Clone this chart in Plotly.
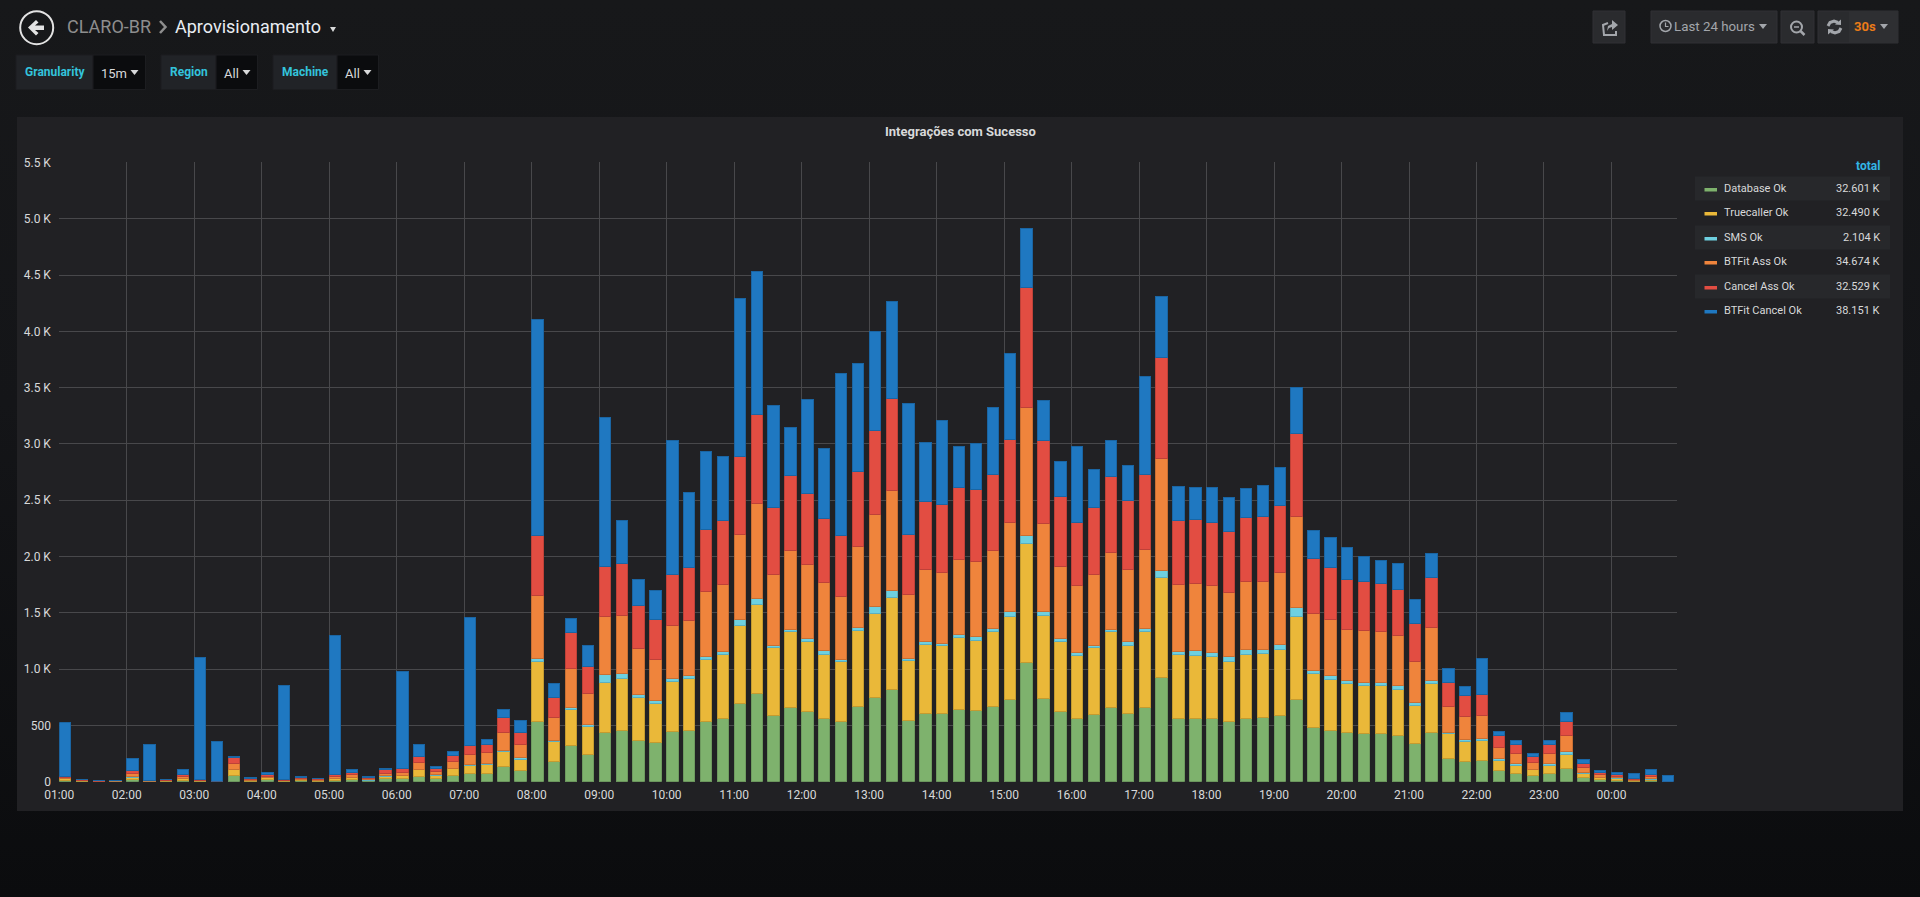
"""Grafana panel "Integrações com Sucesso", rebuilt with Plotly."""
import pandas as pd
import plotly.graph_objects as go

W, H = 1920, 897

# ── Data ──────────────────────────────────────────────────────────────────────
# 15 minute buckets, 01:00 to 00:45 next day

bar_times = pd.date_range("2018-01-01 01:00", periods=96, freq="15min")

database_ok = [
    15, 4, 2, 3, 21, 3, 4, 15, 4, 1, 53, 5, 18, 4, 9, 5, 15, 21, 8, 27, 27, 50, 27, 56,
    74, 77, 133, 100, 533, 178, 320, 243, 441, 456, 370, 349, 444, 459, 539, 562,
    696, 784, 592, 663, 619, 562, 533, 672, 749, 820, 545, 605, 605, 642, 632, 668,
    732, 1059, 739, 625, 561, 598, 662, 605, 662, 926, 565, 561, 561, 535, 565, 571,
    586, 731, 482, 456, 438, 429, 429, 411, 337, 438, 210, 181, 186, 98, 74, 53,
    74, 118, 36, 18, 12, 6, 12, 0,
]
truecaller_ok = [
    12, 4, 1, 2, 20, 2, 4, 15, 4, 1, 51, 5, 15, 5, 9, 6, 15, 16, 7, 23, 26, 54, 29, 59,
    74, 80, 133, 98, 538, 177, 319, 245, 441, 459, 376, 347, 450, 459, 544, 566,
    689, 791, 598, 672, 624, 566, 533, 672, 743, 817, 528, 611, 601, 635, 625, 665,
    732, 1057, 738, 622, 559, 592, 671, 601, 671, 885, 561, 562, 555, 534, 568, 565,
    589, 737, 477, 456, 432, 429, 423, 406, 338, 432, 219, 180, 184, 94, 74, 54,
    74, 122, 35, 18, 15, 6, 12, 0,
]
sms_ok = [
    0, 0, 0, 0, 3, 0, 0, 2, 0, 0, 3, 0, 2, 0, 0, 0, 1, 2, 1, 3, 3, 6, 6, 6,
    9, 9, 15, 18, 21, 15, 24, 24, 71, 50, 32, 23, 24, 29, 33, 26,
    57, 53, 24, 21, 33, 35, 23, 29, 68, 62, 23, 27, 24, 26, 36, 24,
    50, 73, 34, 23, 26, 23, 21, 37, 27, 64, 27, 40, 30, 41, 40, 37,
    47, 77, 33, 35, 27, 27, 27, 33, 27, 33, 12, 18, 18, 12, 15, 5,
    15, 26, 15, 5, 6, 3, 6, 0,
]
btfit_ass_ok = [
    9, 5, 2, 3, 33, 3, 5, 13, 5, 1, 53, 8, 15, 4, 9, 7, 16, 21, 11, 24, 30, 59, 33, 62,
    86, 89, 154, 118, 560, 198, 340, 269, 512, 509, 409, 370, 470, 489, 577, 598,
    751, 844, 624, 695, 657, 604, 560, 714, 814, 885, 565, 639, 625, 669, 662, 695,
    789, 1136, 782, 642, 595, 625, 685, 639, 699, 999, 595, 598, 595, 568, 605, 608,
    637, 808, 506, 497, 459, 456, 456, 446, 367, 467, 225, 198, 198, 104, 86, 57,
    86, 142, 44, 21, 14, 9, 17, 0,
]
cancel_ass_ok = [
    8, 5, 2, 4, 23, 4, 5, 17, 5, 1, 56, 9, 18, 5, 11, 8, 18, 26, 11, 32, 32, 53, 26, 54,
    77, 79, 133, 101, 532, 184, 323, 246, 444, 462, 376, 350, 450, 464, 545, 566,
    699, 790, 595, 666, 624, 568, 535, 672, 749, 823, 531, 608, 611, 641, 638, 675,
    735, 1060, 738, 621, 562, 595, 668, 611, 671, 889, 568, 565, 558, 541, 571, 572,
    592, 740, 482, 459, 441, 435, 429, 409, 340, 442, 213, 187, 184, 100, 77, 53,
    77, 125, 36, 24, 18, 6, 18, 0,
]
btfit_cancel_ok = [
    480, 3, 5, 3, 107, 320, 3, 42, 1089, 351, 9, 9, 18, 832, 12, 4, 1237, 18, 6, 6,
    865, 110, 18, 29, 1136, 42, 74, 107, 1924, 118, 127, 181, 1323, 382, 234, 260,
    1196, 666, 695, 574, 1396, 1265, 912, 432, 838, 625, 1442, 959, 879, 861,
    1163, 524, 739, 365, 411, 592, 762, 531, 354, 308, 671, 338, 321, 314, 873, 542,
    304, 291, 311, 304, 258, 274, 337, 406, 252, 264, 284, 222, 201, 231, 207, 213,
    124, 83, 322, 42, 38, 30, 41, 83, 29, 15, 15, 41, 45, 56,
]

series_names = ["Database Ok", "Truecaller Ok", "SMS Ok", "BTFit Ass Ok", "Cancel Ass Ok", "BTFit Cancel Ok"]
series_totals = ["32.601 K", "32.490 K", "2.104 K", "34.674 K", "32.529 K", "38.151 K"]
series_values = [database_ok, truecaller_ok, sms_ok, btfit_ass_ok, cancel_ass_ok, btfit_cancel_ok]
series_colors = ["#7EB26D", "#EAB839", "#6ED0E0", "#EF843C", "#E24D42", "#1F78C1"]
series_edges = ["#6E9A5F", "#C49B30", "#5DB0BE", "#C96F33", "#BE4138", "#1A65A3"]

y_ticks = [0, 500, 1000, 1500, 2000, 2500, 3000, 3500, 4000, 4500, 5000, 5500]
y_labels = ["0", "500", "1.0 K", "1.5 K", "2.0 K", "2.5 K", "3.0 K", "3.5 K", "4.0 K", "4.5 K", "5.0 K", "5.5 K"]
x_ticks = pd.date_range("2018-01-01 01:00", periods=24, freq="60min")

# ── Pixel helpers ─────────────────────────────────────────────────────────────
# Everything around the chart is placed in screen pixels, y going down.

shapes = []
notes = []


def px(x):
    return x / W


def py(y):
    return 1 - y / H


def rect(x0, y0, x1, y1, fill, line=None):
    shapes.append(dict(
        type="rect", xref="paper", yref="paper", layer="below",
        x0=px(x0), x1=px(x1), y0=py(y0), y1=py(y1),
        fillcolor=fill, line=dict(color=line or fill, width=1 if line else 0),
    ))


def ring(cx, cy, r, color, width):
    shapes.append(dict(
        type="circle", xref="paper", yref="paper", layer="below",
        x0=px(cx - r), x1=px(cx + r), y0=py(cy - r), y1=py(cy + r),
        line=dict(color=color, width=width),
    ))


def poly(points, color, closed=True, width=0):
    path = "M" + " L".join(f"{px(x):.5f},{py(y):.5f}" for x, y in points)
    shapes.append(dict(
        type="path", xref="paper", yref="paper", layer="below",
        path=path + (" Z" if closed else ""),
        fillcolor=color if closed else "rgba(0,0,0,0)",
        line=dict(color=color, width=width),
    ))


def caret(x, y, color="#D8D9DA", size=4):
    poly([(x - size, y - 2), (x + size, y - 2), (x, y + 3)], color)


def text(x, y, s, color="#D8D9DA", size=12, anchor="left", bold=False):
    # annotations sit about 2px inside their anchor
    nudge = {"left": -2, "right": 2}.get(anchor, 0)
    notes.append(dict(
        text=f"<b>{s}</b>" if bold else s,
        xref="paper", yref="paper", x=px(x + nudge), y=py(y),
        xanchor=anchor, yanchor="middle", showarrow=False,
        font=dict(family="Roboto", size=size, color=color),
    ))


# ── Dashboard chrome ──────────────────────────────────────────────────────────

# back button
ring(36.7, 27.7, 16.5, "#E3E3E3", 2)
poly([(28, 27.5), (36, 20), (38.5, 22.5), (35, 25.5), (44, 25.5), (44, 30), (35, 30), (38.5, 33), (36, 35.5)], "#E3E3E3")

text(67, 27, "CLARO-BR", "#8E8E8E", 18)
poly([(160, 21), (165.5, 27), (160, 33)], "#8E8E8E", closed=False, width=2.5)
text(175, 27, "Aprovisionamento", "#E9EDF2", 18)
caret(333, 29, size=3)

# template variables
for x0, x1, x2, label, value in [
    (16, 93, 145.5, "Granularity", "15m"),
    (161, 216, 257.5, "Region", "All"),
    (273, 337, 378.5, "Machine", "All"),
]:
    rect(x0, 55, x1, 89.5, "#212327", "#1C1D20")
    rect(x1, 55, x2, 89.5, "#0B0C0E", "#1C1D20")
    text(x0 + 9, 72, label, "#33C3DC", 12, bold=True)
    text(x1 + 8, 73, value, "#D8D9DA", 13)
    caret(x2 - 11, 72)

# share button
rect(1593, 11, 1625, 43, "#2A2B2E", "#303134")
poly([(1616, 31), (1616, 35), (1604, 35), (1603, 25), (1608, 23)], "#A3A6AB", closed=False, width=2)
poly([(1607, 31), (1608, 26), (1612, 24), (1612, 20), (1618, 25), (1612, 30), (1612, 27), (1609, 28)], "#A3A6AB")

# time picker, zoom, refresh
rect(1651, 11, 1777, 43, "#2A2B2E", "#303134")
ring(1665.5, 26, 5.5, "#A3A6AB", 1.5)
poly([(1665.5, 22.5), (1665.5, 26.5), (1668.5, 26.5)], "#A3A6AB", closed=False, width=1.2)
text(1674, 26.5, "Last 24 hours", "#A3A6AB", 13.3)
caret(1763, 26, "#A3A6AB")

rect(1781, 11, 1814, 43, "#2A2B2E", "#303134")
ring(1796.5, 27, 5.5, "#A3A6AB", 2)
poly([(1800.5, 31), (1804.5, 35)], "#A3A6AB", closed=False, width=2.5)
poly([(1794, 27), (1799, 27)], "#A3A6AB", closed=False, width=1.5)

rect(1818, 11, 1898, 43, "#2A2B2E", "#303134")
rect(1849, 11, 1898, 43, "#2E2F32")
poly([(1828, 26), (1830, 22.5), (1834, 21), (1838, 22.5)], "#A3A6AB", closed=False, width=3)
poly([(1835, 24.5), (1841, 25), (1841, 19.5)], "#A3A6AB")
poly([(1841, 28), (1839, 31.5), (1835, 33), (1831, 31.5)], "#A3A6AB", closed=False, width=3)
poly([(1834, 29.5), (1828, 29), (1828, 34.5)], "#A3A6AB")
text(1854, 26.5, "30s", "#EB7B18", 13, bold=True)
caret(1884, 26, "#A3A6AB")

# panel
rect(17, 117, 1903, 811, "#212124")
text(960, 131, "Integrações com Sucesso", "#D8D9DA", 13, anchor="center", bold=True)

# ── Legend table ──────────────────────────────────────────────────────────────

text(1880, 166, "total", "#33B5E5", 12, anchor="right", bold=True)
row_centers = [188, 212, 237, 261, 286, 310]
for i, (name, total, color) in enumerate(zip(series_names, series_totals, series_colors)):
    yc = row_centers[i]
    if i % 2 == 0:
        rect(1695, yc - 11.5, 1890, yc + 12.5, "#27282B")
    rect(1704.5, yc, 1717, yc + 3.5, color)
    text(1724, yc, name, "#D8D9DA", 11)
    text(1880, yc, total, "#D8D9DA", 11, anchor="right")

# ── Bars ──────────────────────────────────────────────────────────────────────

fig = go.Figure()
for name, values, color, edge in zip(series_names, series_values, series_colors, series_edges):
    fig.add_trace(go.Bar(
        x=bar_times,
        y=values,
        name=name,
        offset=0,
        width=10.1 * 60 * 1000,
        marker=dict(color=color, line=dict(color=edge, width=1)),
    ))

fig.update_layout(
    barmode="stack",
    width=W,
    height=H,
    autosize=False,
    margin=dict(l=0, r=0, t=0, b=0, autoexpand=False),
    paper_bgcolor="rgba(0,0,0,0)",
    plot_bgcolor="rgba(0,0,0,0)",
    showlegend=False,
    font=dict(family="Roboto", size=12, color="#D8D9DA"),
    shapes=shapes,
    annotations=notes,
    xaxis=dict(
        domain=[px(59.3), px(1676.7)],
        type="date",
        range=["2018-01-01 01:00", "2018-01-02 00:58"],
        tickvals=x_ticks,
        ticktext=[t.strftime("%H:%M") for t in x_ticks],
        tickangle=0,
        automargin=False,
        showgrid=True,
        gridcolor="#48484B",
        gridwidth=1,
        zeroline=False,
        ticks="outside",
        ticklen=2,
        tickcolor="rgba(0,0,0,0)",
    ),
    yaxis=dict(
        domain=[py(781.7), py(162.4)],
        range=[0, 5500],
        tickvals=y_ticks,
        ticktext=y_labels,
        automargin=False,
        showgrid=True,
        gridcolor="#48484B",
        gridwidth=1,
        zeroline=False,
        ticks="outside",
        ticklen=5,
        tickcolor="rgba(0,0,0,0)",
    ),
)

page_css = (
    "document.documentElement.style.background='#0B0C0E';"
    "document.body.style.margin='0';"
    "document.body.style.overflow='hidden';"
    "document.body.style.background='linear-gradient(180deg,#17181A 0%,#141518 45%,#0B0C0E 100%)';"
)
fig.write_html("out.html", post_script=page_css, config=dict(displayModeBar=False))
